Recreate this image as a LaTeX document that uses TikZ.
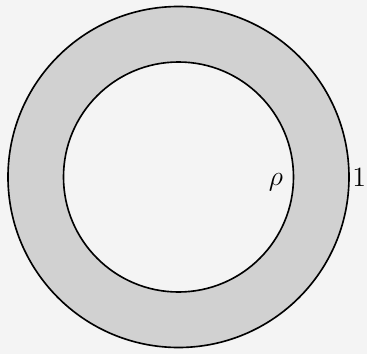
\documentclass[tikz,border=0pt]{standalone}
\usepackage{amsmath,amssymb}
\usepackage{xcolor}
\usepackage{tikz}
\usetikzlibrary{positioning}

\definecolor{paper}{gray}{0.955}
\definecolor{ring}{gray}{0.82}

\begin{document}
\begin{tikzpicture}[
    x=0.43pt, y=-0.43pt,
    rim/.style={draw, line width=0.7pt},
    lbl/.style={inner sep=0pt, font=\large}]
  % page and margins
  \fill[paper] (0,0) rectangle (367,354);
  \useasboundingbox (0,0) rectangle (367,354);

  % the annulus
  \coordinate (o) at (178.5,177);
  \fill[ring, even odd rule] (o) circle[radius=170.5] (o) circle[radius=115];
  \draw[rim] (o) circle[radius=170.5];
  \draw[rim] (o) circle[radius=115];

  \node[lbl] (rho) at (276,182) {$\rho$};
  \node[lbl, anchor=east] (one) at (366.5,178) {$1$};
\end{tikzpicture}
\end{document}
